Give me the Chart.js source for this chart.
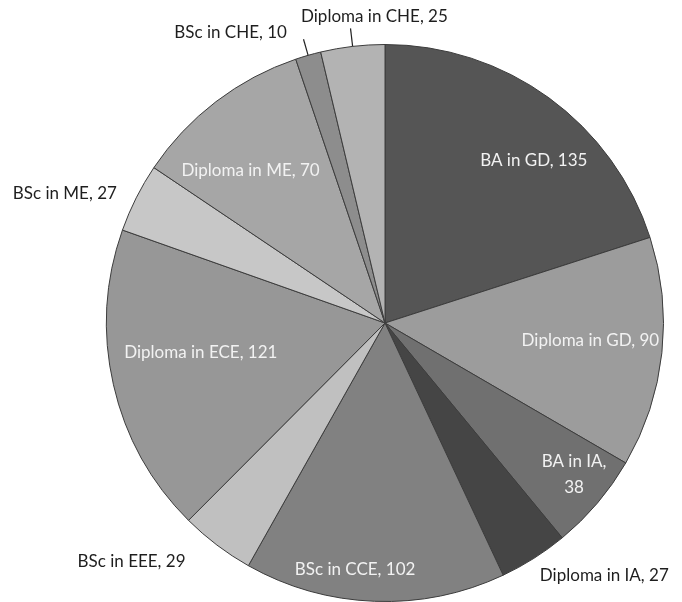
<!DOCTYPE html>
<html>
<head>
<meta charset="utf-8">
<script src="https://cdn.jsdelivr.net/npm/chart.js@4"></script>
<style>
  html, body { margin: 0; padding: 0; background: #fff; }
  #wrap { width: 682px; height: 602px; }
</style>
</head>
<body>
<div id="wrap"><canvas id="pie"></canvas></div>
<script>
// data
const programs = ['BA in GD', 'Diploma in GD', 'BA in IA', 'Diploma in IA', 'BSc in CCE',
    'BSc in EEE', 'Diploma in ECE', 'BSc in ME', 'Diploma in ME', 'BSc in CHE', 'Diploma in CHE'];
const students = [135, 90, 38, 27, 102, 29, 121, 27, 70, 10, 25];

const sliceColors = ['#555555', '#9c9c9c', '#707070', '#454545', '#818181',
    '#c0c0c0', '#979797', '#c7c7c7', '#a6a6a6', '#8d8d8d', '#b3b3b3'];

// label placement: angle nudge (deg), distance as fraction of radius, inside?, leader, wrap
const labelSpots = [
    { da: 6.5, f: 0.79, inside: true },
    { da: -1.4, f: 0.74, inside: true },
    { da: -1.6, f: 0.87, inside: true, wrap: true },
    { da: -8.7, f: 1.20, inside: false },
    { da: 4.8, f: 0.89, inside: true },
    { da: 9.6, f: 1.25, inside: false },
    { da: 3.6, f: 0.67, inside: true },
    { da: -4.7, f: 1.24, inside: false },
    { da: -4.0, f: 0.73, inside: true },
    { da: -12, f: 1.18, inside: false, leader: 1.06 },
    { da: 4.7, f: 1.10, inside: false, leader: 1.065 }
];

const sliceLabels = {
    id: 'sliceLabels',
    afterDatasetsDraw(chart) {
        const ctx = chart.ctx;
        const arcs = chart.getDatasetMeta(0).data;
        ctx.save();
        ctx.font = '17px Lato';
        ctx.textAlign = 'center';
        ctx.textBaseline = 'middle';
        arcs.forEach((arc, i) => {
            const p = arc.getProps(['x', 'y', 'startAngle', 'endAngle', 'outerRadius'], true);
            const spot = labelSpots[i];
            const mid = (p.startAngle + p.endAngle) / 2;
            if (spot.leader) {
                ctx.strokeStyle = '#222';
                ctx.lineWidth = 1.2;
                ctx.beginPath();
                ctx.moveTo(p.x + Math.cos(mid) * p.outerRadius, p.y + Math.sin(mid) * p.outerRadius);
                ctx.lineTo(p.x + Math.cos(mid) * p.outerRadius * spot.leader, p.y + Math.sin(mid) * p.outerRadius * spot.leader);
                ctx.stroke();
            }
            const a = mid + spot.da * Math.PI / 180;
            const lx = p.x + Math.cos(a) * p.outerRadius * spot.f;
            const ly = p.y + Math.sin(a) * p.outerRadius * spot.f;
            ctx.fillStyle = spot.inside ? '#f2f2f2' : '#1e1e1e';
            const txt = programs[i] + ', ' + students[i];
            if (spot.wrap) {
                ctx.fillText(programs[i] + ',', lx, ly - 13);
                ctx.fillText(String(students[i]), lx, ly + 13);
            } else {
                ctx.fillText(txt, lx, ly);
            }
        });
        ctx.restore();
    }
};

let pieChart = new Chart(document.getElementById('pie'), {
    type: 'pie',
    data: {
        labels: programs,
        datasets: [{
            data: students,
            backgroundColor: sliceColors,
            borderColor: '#3c3c3c',
            borderWidth: 1
        }]
    },
    options: {
        responsive: true,
        maintainAspectRatio: false,
        animation: false,
        layout: { padding: { left: 106, right: 18, top: 44, bottom: 0 } },
        plugins: {
            legend: { display: false },
            tooltip: { enabled: false }
        }
    },
    plugins: [sliceLabels]
});
</script>
</body>
</html>
